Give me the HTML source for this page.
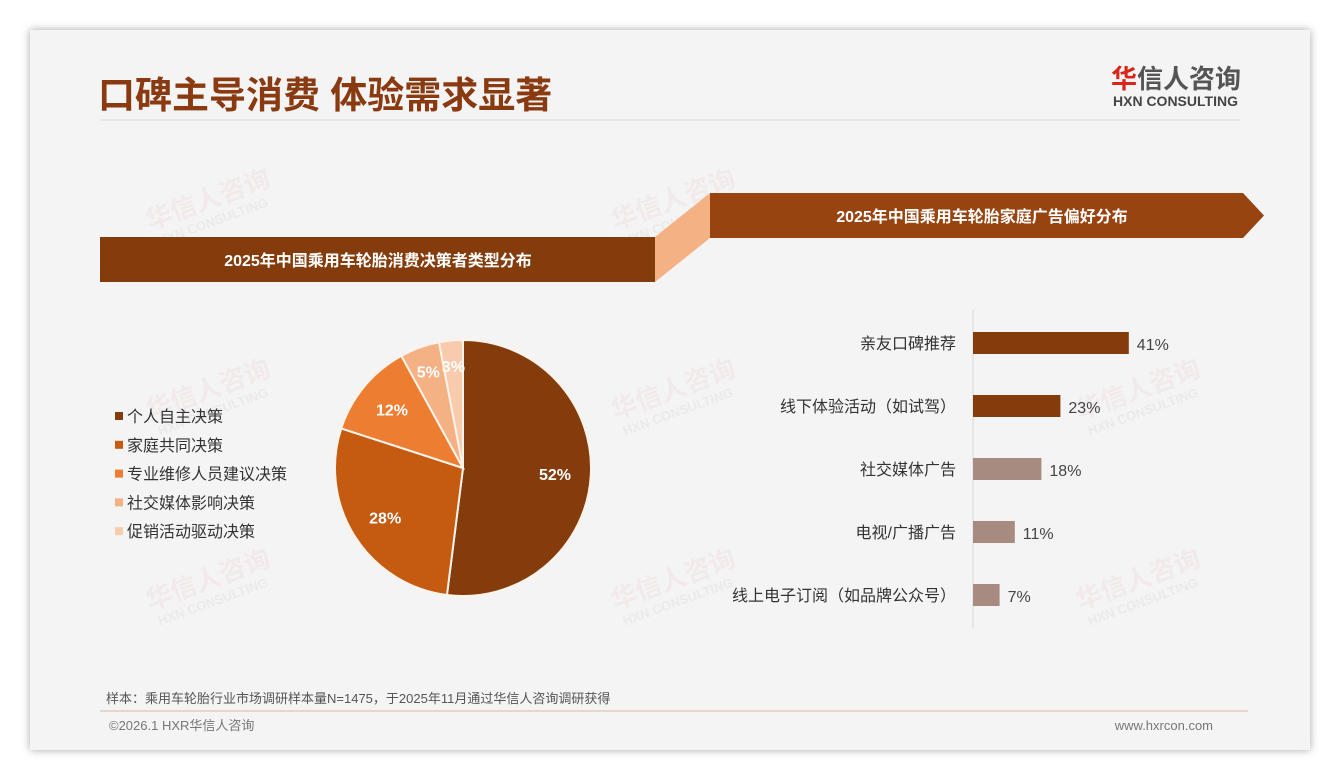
<!DOCTYPE html>
<html><head><meta charset="utf-8">
<style>
html,body{margin:0;padding:0;}
body{width:1340px;height:780px;background:#ffffff;position:relative;overflow:hidden;font-family:"Liberation Sans","Noto Sans CJK SC",sans-serif;}
#slide{position:absolute;left:30px;top:30px;width:1280px;height:720px;background:#f4f4f4;box-shadow:0 0 8px rgba(0,0,0,0.35);}
.abs{position:absolute;}
</style></head><body>
<div id="slide"></div>
<svg id="svg" class="abs" style="left:0;top:0" width="1340" height="780">
</svg>
<script>
const pieCategories=["个人自主决策","家庭共同决策","专业维修人员建议决策","社交媒体影响决策","促销活动驱动决策"];
const pieValues=[52,28,12,5,3];
const pieColors=["#843c0c","#c55a11","#ed7d31","#f4b183","#f8cbad"];
const barCategories=["亲友口碑推荐","线下体验活动（如试驾）","社交媒体广告","电视/广播广告","线上电子订阅（如品牌公众号）"];
const barValues=[41,23,18,11,7];
const barColors=["#843c0c","#843c0c","#a78a80","#a78a80","#a78a80"];

const NS="http://www.w3.org/2000/svg";
const svg=document.getElementById('svg');
function mk(tag,attrs,parent){const e=document.createElementNS(NS,tag);for(const k in attrs)e.setAttribute(k,attrs[k]);(parent||svg).appendChild(e);return e;}
function txt(s,attrs){const t=mk('text',attrs);t.textContent=s;return t;}
const F='"Liberation Sans","Noto Sans CJK SC",sans-serif';

// watermarks
const wmPos=[[150,230],[615,230],[150,420],[615,420],[1080,420],[150,610],[615,610],[1080,610]];
wmPos.forEach(p=>{
  const g=mk('g',{transform:`translate(${p[0]},${p[1]}) rotate(-20)`});
  
  
  const a=mk('text',{x:0,y:0,'font-size':26,'font-weight':'bold',fill:'rgba(225,130,130,0.09)','font-family':F},g);a.textContent='华信人咨询';
  const b=mk('text',{x:4,y:18,'font-size':13,'font-weight':'bold',fill:'rgba(180,180,180,0.14)','font-family':F},g);b.textContent='HXN CONSULTING';
});

// title
let t=txt('口碑主导消费 体验需求显著',{x:98,y:108,'font-size':37,'font-weight':'bold',fill:'#8a3a10','font-family':F});

mk('line',{x1:100,y1:120,x2:1240,y2:120,stroke:'#d8d8d8','stroke-width':1});
// logo
t=txt('华',{x:1111,y:88,'font-size':26,'font-weight':'bold',fill:'#d9261c','font-family':F});

t=txt('信人咨询',{x:1137,y:88,'font-size':26,'font-weight':'bold',fill:'#555','font-family':F});

t=txt('HXN CONSULTING',{x:1113,y:106,'font-size':14,'font-weight':'bold',fill:'#444','font-family':F});


// ribbons
let r=mk('rect',{x:100,y:237,width:555,height:45,fill:'#843c0c'});

r=mk('polygon',{points:'655,237 710,193 710,238 655,282',fill:'#f4b183'});

r=mk('polygon',{points:'710,193 1243,193 1264,215.5 1243,238 710,238',fill:'#974410'});

t=txt('2025年中国乘用车轮胎消费决策者类型分布',{x:378,y:266,'font-size':16,'font-weight':'bold',fill:'#fff','text-anchor':'middle','font-family':F});

t=txt('2025年中国乘用车轮胎家庭广告偏好分布',{x:982,y:222,'font-size':16,'font-weight':'bold',fill:'#fff','text-anchor':'middle','font-family':F});


// pie
const cx=463,cy=468,R=128;
const total=pieValues.reduce((a,b)=>a+b,0);
let ang=-Math.PI/2;
pieValues.forEach((v,i)=>{
  const a0=ang,a1=ang+v/total*2*Math.PI;ang=a1;
  const x0=cx+R*Math.cos(a0),y0=cy+R*Math.sin(a0),x1=cx+R*Math.cos(a1),y1=cy+R*Math.sin(a1);
  const p=mk('path',{d:`M${cx},${cy} L${x0},${y0} A${R},${R} 0 ${a1-a0>Math.PI?1:0} 1 ${x1},${y1} Z`,fill:pieColors[i],stroke:'#fdf3ea','stroke-width':2});
  
  
  const m=(a0+a1)/2,lr=R*(v<8?0.8:0.72);
  const l=txt(v+'%',{x:cx+lr*Math.cos(m),y:cy+lr*Math.sin(m)+6,'font-size':16,'font-weight':'bold',fill:'#fff','text-anchor':'middle','font-family':F});
  
  
});
// legend
pieCategories.forEach((c,i)=>{
  const y=416+i*28.8;
  const s=mk('rect',{x:115,y:y-4,width:8,height:8,fill:pieColors[i]});
  
  
  const l=txt(c,{x:127,y:y+6,'font-size':16,fill:'#333','font-family':F});
  
  
});

// bar chart
const x0b=973,pxPer=3.8,bh=22;
const ax=mk('line',{x1:x0b,y1:310,x2:x0b,y2:628,stroke:'#d9d9d9','stroke-width':1});

barCategories.forEach((c,i)=>{
  const yc=343+i*63;
  const b=mk('rect',{x:x0b,y:yc-bh/2,width:barValues[i]*pxPer,height:bh,fill:barColors[i]});
  
  
  const l=txt(c,{x:956,y:yc+6,'font-size':16,fill:'#333','text-anchor':'end','font-family':F});
  
  
  const v=txt(barValues[i]+'%',{x:x0b+barValues[i]*pxPer+8,y:yc+7,'font-size':16,fill:'#444','font-family':F});
  
  
});

// footer
t=txt('样本：乘用车轮胎行业市场调研样本量N=1475，于2025年11月通过华信人咨询调研获得',{x:106,y:703,'font-size':13,fill:'#555','font-family':F});

mk('line',{x1:100,y1:711,x2:1248,y2:711,stroke:'#d8b9a6','stroke-width':1});
t=txt('©2026.1 HXR华信人咨询',{x:109,y:730,'font-size':13,fill:'#777','font-family':F});

t=txt('www.hxrcon.com',{x:1213,y:730,'font-size':13,fill:'#777','text-anchor':'end','font-family':F});

</script>
</body></html>
